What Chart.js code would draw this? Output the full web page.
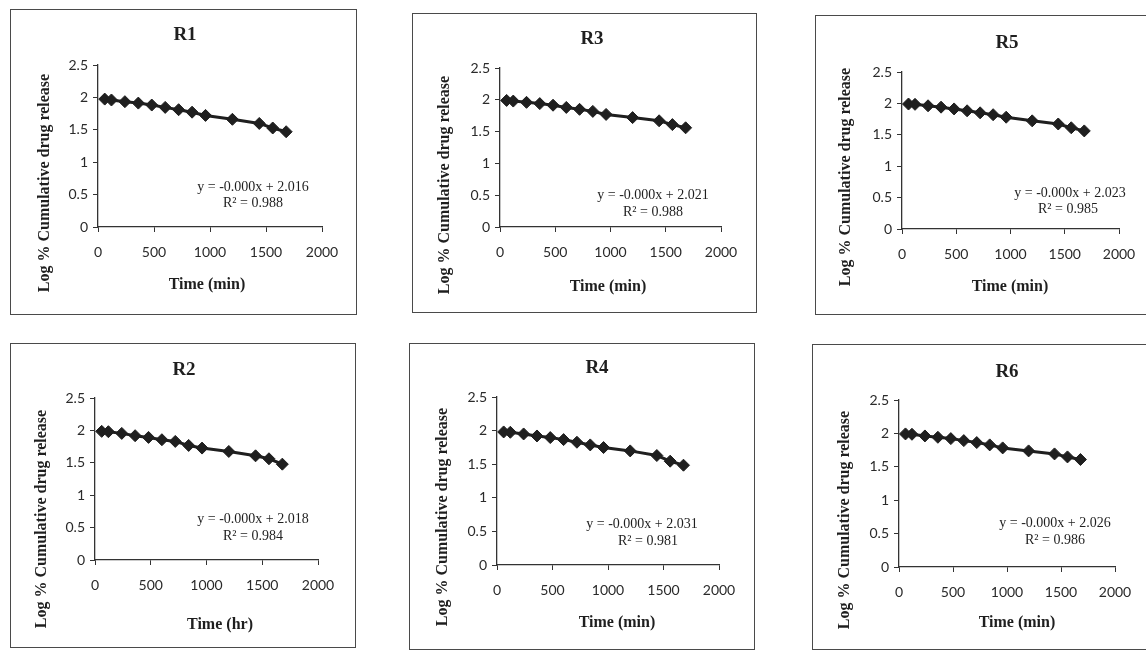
<!DOCTYPE html>
<html>
<head>
<meta charset="utf-8">
<title>Log % cumulative drug release vs time, R1–R6</title>
<script src="https://cdn.jsdelivr.net/npm/chart.js@4.4.1/dist/chart.umd.min.js"></script>
<style>
  html, body { margin: 0; padding: 0; background: #fff; }
  body { width: 1146px; height: 652px; position: relative; overflow: hidden; }
  .frame { position: absolute; border: 1.5px solid #4a4a4a; box-sizing: border-box; }
  canvas { position: absolute; }
</style>
</head>
<body>
<script>
// Sampling times (min), shared by every formulation
const timeMin = [60, 120, 240, 360, 480, 600, 720, 840, 960, 1200, 1440, 1560, 1680];

// Log % cumulative drug release for each formulation
const logR1 = [1.974, 1.960, 1.934, 1.912, 1.882, 1.846, 1.810, 1.772, 1.722, 1.662, 1.598, 1.528, 1.470];
const logR2 = [1.985, 1.980, 1.954, 1.918, 1.892, 1.856, 1.830, 1.768, 1.727, 1.675, 1.608, 1.562, 1.479];
const logR3 = [1.990, 1.980, 1.960, 1.940, 1.915, 1.880, 1.850, 1.818, 1.770, 1.720, 1.670, 1.610, 1.560];
const logR4 = [1.980, 1.975, 1.950, 1.920, 1.896, 1.866, 1.827, 1.787, 1.748, 1.698, 1.629, 1.545, 1.485];
const logR5 = [1.990, 1.985, 1.962, 1.940, 1.912, 1.882, 1.850, 1.820, 1.780, 1.722, 1.672, 1.612, 1.562];
const logR6 = [1.992, 1.987, 1.962, 1.942, 1.922, 1.892, 1.863, 1.828, 1.783, 1.738, 1.693, 1.648, 1.609];

// Panel names, axis titles and trendline annotations
const panelNames = ['R1', 'R2', 'R3', 'R4', 'R5', 'R6'];
const panelSeries = [logR1, logR2, logR3, logR4, logR5, logR6];
const xAxisTitles = ['Time (min)', 'Time (hr)', 'Time (min)', 'Time (min)', 'Time (min)', 'Time (min)'];
const yAxisTitle = 'Log % Cumulative drug release';
const trendEquations = ['y = -0.000x + 2.016', 'y = -0.000x + 2.018', 'y = -0.000x + 2.021',
                        'y = -0.000x + 2.031', 'y = -0.000x + 2.023', 'y = -0.000x + 2.026'];
const trendR2 = ['R² = 0.988', 'R² = 0.984', 'R² = 0.988', 'R² = 0.981', 'R² = 0.985', 'R² = 0.986'];

// Axis ranges and tick steps
const xTickLabels = [0, 500, 1000, 1500, 2000];
const yTickLabels = [0, 0.5, 1, 1.5, 2, 2.5];

// Frame geometry: box on page, plot area inside the box, and text anchors (box-relative px)
const layout = [
  { box: [10, 9, 347, 306],   area: [88, 56, 312, 218], title: [175, 26], xt: [197, 276], yt: [35, 174], eq: [243, 178, 243, 194] },
  { box: [10, 343, 346, 305], area: [85, 55, 308, 217], title: [174, 27], xt: [210, 282], yt: [32, 176], eq: [243, 176, 243, 193] },
  { box: [412, 13, 345, 300], area: [88, 55, 309, 214], title: [180, 26], xt: [196, 274], yt: [33, 172], eq: [241, 182, 241, 199] },
  { box: [409, 343, 346, 307],area: [88, 54, 310, 222], title: [188, 25], xt: [208, 280], yt: [34, 174], eq: [233, 181, 239, 198] },
  { box: [815, 15, 345, 300], area: [87, 57, 304, 214], title: [192, 28], xt: [195, 272], yt: [31, 162], eq: [255, 178, 253, 194] },
  { box: [812, 344, 345, 306],area: [87, 56, 303, 223], title: [195, 28], xt: [205, 279], yt: [33, 176], eq: [243, 179, 243, 196] }
];

const INK = '#1f1f1f';
const SERIF = '"Liberation Serif", "Times New Roman", serif';
const SANS = 'Lato, "Open Sans", sans-serif';
const Y_SCALE_W = 40;
const X_SCALE_H = 40;

// Draws the panel title, axis titles and the trendline annotation
const panelText = {
  id: 'panelText',
  afterDraw(chart, args, opts) {
    const ctx = chart.ctx;
    const L = opts.layout;
    ctx.save();
    ctx.fillStyle = INK;
    ctx.textAlign = 'center';
    ctx.textBaseline = 'middle';

    ctx.font = 'bold 19px ' + SERIF;
    ctx.fillText(opts.name, L.title[0], L.title[1]);

    ctx.font = 'bold 16px ' + SERIF;
    ctx.fillText(opts.xTitle, L.xt[0], L.xt[1]);

    ctx.save();
    ctx.translate(L.yt[0], L.yt[1]);
    ctx.rotate(-Math.PI / 2);
    ctx.fillText(yAxisTitle, 0, 0);
    ctx.restore();

    ctx.font = '14px ' + SERIF;
    ctx.fillText(opts.eq, L.eq[0], L.eq[1]);
    ctx.fillText(opts.r2, L.eq[2], L.eq[3]);
    ctx.restore();
  }
};

panelNames.forEach((name, i) => {
  const L = layout[i];
  const [bx, by, bw, bh] = L.box;
  const [al, at, ar, ab] = L.area;

  const frame = document.createElement('div');
  frame.className = 'frame';
  Object.assign(frame.style, { left: bx + 'px', top: by + 'px', width: bw + 'px', height: bh + 'px' });
  document.body.appendChild(frame);

  const canvas = document.createElement('canvas');
  canvas.width = bw; canvas.height = bh;
  Object.assign(canvas.style, { left: bx + 'px', top: by + 'px', width: bw + 'px', height: bh + 'px' });
  document.body.appendChild(canvas);

  const points = timeMin.map((t, k) => ({ x: t, y: panelSeries[i][k] }));

  new Chart(canvas, {
    type: 'scatter',
    data: {
      datasets: [{
        data: points,
        showLine: true,
        borderColor: INK,
        borderWidth: 3,
        pointStyle: 'rectRot',
        pointRadius: 6,
        pointBorderWidth: 1,
        pointBackgroundColor: INK,
        pointBorderColor: INK,
        tension: 0
      }]
    },
    options: {
      responsive: false,
      animation: false,
      devicePixelRatio: 1,
      layout: {
        padding: { left: al - Y_SCALE_W, top: at, right: bw - ar, bottom: bh - ab - X_SCALE_H }
      },
      plugins: {
        legend: { display: false },
        tooltip: { enabled: false },
        panelText: { layout: L, name, xTitle: xAxisTitles[i], eq: trendEquations[i], r2: trendR2[i] }
      },
      scales: {
        x: {
          type: 'linear',
          min: xTickLabels[0],
          max: xTickLabels[xTickLabels.length - 1],
          afterFit(s) { s.height = X_SCALE_H; },
          afterBuildTicks(s) { s.ticks = xTickLabels.map(v => ({ value: v })); },
          ticks: {
            callback: v => String(v),
            font: { family: SANS, size: 14 },
            color: '#2a2a2a',
            padding: 12,
            maxRotation: 0
          },
          grid: { drawOnChartArea: false, drawTicks: true, tickLength: 5, color: '#333', lineWidth: 1 },
          border: { display: true, color: '#333', width: 1.3 }
        },
        y: {
          type: 'linear',
          min: yTickLabels[0],
          max: yTickLabels[yTickLabels.length - 1],
          afterFit(s) { s.width = Y_SCALE_W; },
          afterBuildTicks(s) { s.ticks = yTickLabels.map(v => ({ value: v })); },
          ticks: {
            callback: v => String(v),
            font: { family: SANS, size: 14 },
            color: '#2a2a2a',
            padding: 5
          },
          grid: { drawOnChartArea: false, drawTicks: true, tickLength: 5, color: '#333', lineWidth: 1 },
          border: { display: true, color: '#333', width: 1.3 }
        }
      }
    },
    plugins: [panelText]
  });
});
</script>
</body>
</html>
